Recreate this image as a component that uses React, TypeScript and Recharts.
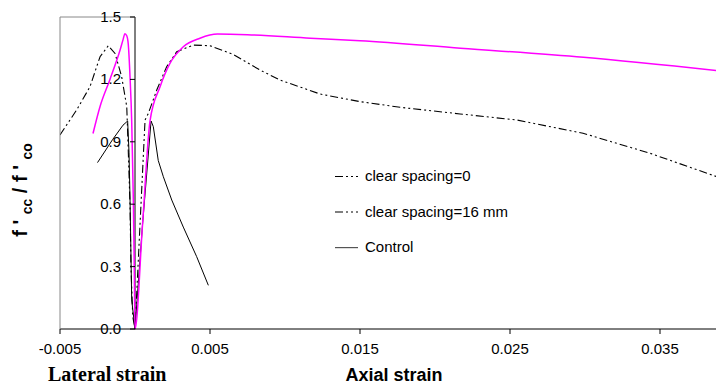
import React from "react";
import { ComposedChart, Line, XAxis, YAxis, ReferenceLine } from "recharts";

// curves run from the far lateral end, through the origin, out along the axial branch
const spacing0 = [
  { x: -0.005, y: 0.933 },
  { x: -0.00389, y: 1.053 },
  { x: -0.003, y: 1.165 },
  { x: -0.00233, y: 1.309 },
  { x: -0.00178, y: 1.362 },
  { x: -0.00133, y: 1.325 },
  { x: -0.00089, y: 1.213 },
  { x: -0.00055, y: 1.069 },
  { x: -0.00045, y: 0.86 },
  { x: -0.00033, y: 0.588 },
  { x: -0.00027, y: 0.3 },
  { x: -0.00015, y: 0.06 },
  { x: 0, y: 0 },
  { x: 0.00067, y: 1.005 },
  { x: 0.00089, y: 1.037 },
  { x: 0.00145, y: 1.149 },
  { x: 0.00211, y: 1.261 },
  { x: 0.00278, y: 1.333 },
  { x: 0.00389, y: 1.365 },
  { x: 0.005, y: 1.362 },
  { x: 0.00655, y: 1.32 },
  { x: 0.00833, y: 1.245 },
  { x: 0.00967, y: 1.197 },
  { x: 0.01233, y: 1.13 },
  { x: 0.015, y: 1.093 },
  { x: 0.01767, y: 1.066 },
  { x: 0.02167, y: 1.034 },
  { x: 0.02544, y: 1.005 },
  { x: 0.02987, y: 0.941 },
  { x: 0.03433, y: 0.845 },
  { x: 0.0388, y: 0.732 },
];

const spacing16 = [
  { x: -0.0028, y: 0.94 },
  { x: -0.00233, y: 1.07 },
  { x: -0.00167, y: 1.2 },
  { x: -0.001, y: 1.34 },
  { x: -0.0008, y: 1.39 },
  { x: -0.00067, y: 1.42 },
  { x: -0.00055, y: 1.41 },
  { x: -0.00045, y: 1.37 },
  { x: -0.00033, y: 1.21 },
  { x: -0.00022, y: 1.0 },
  { x: -0.00011, y: 0.62 },
  { x: -0.00004, y: 0.25 },
  { x: 0, y: 0 },
  { x: 0.0005, y: 0.5 },
  { x: 0.001, y: 1.0 },
  { x: 0.00167, y: 1.165 },
  { x: 0.00233, y: 1.277 },
  { x: 0.00322, y: 1.357 },
  { x: 0.00433, y: 1.398 },
  { x: 0.0055, y: 1.418 },
  { x: 0.0075, y: 1.415 },
  { x: 0.0117, y: 1.398 },
  { x: 0.015, y: 1.386 },
  { x: 0.0217, y: 1.35 },
  { x: 0.0299, y: 1.306 },
  { x: 0.0388, y: 1.242 },
];

const control = [
  { x: -0.0025, y: 0.8 },
  { x: -0.0015, y: 0.91 },
  { x: -0.0008, y: 0.98 },
  { x: -0.00049, y: 1.0 },
  { x: -0.0004, y: 0.85 },
  { x: -0.00033, y: 0.62 },
  { x: -0.00022, y: 0.14 },
  { x: 0, y: 0 },
  { x: 0.0005, y: 0.5 },
  { x: 0.00107, y: 1.0 },
  { x: 0.00122, y: 0.973 },
  { x: 0.00155, y: 0.81 },
  { x: 0.00189, y: 0.732 },
  { x: 0.00245, y: 0.62 },
  { x: 0.00322, y: 0.49 },
  { x: 0.00411, y: 0.348 },
  { x: 0.00489, y: 0.21 },
];

const xTicks = [-0.005, 0.005, 0.015, 0.025, 0.035];
const yTicks = [0, 0.3, 0.6, 0.9, 1.2, 1.5];
const legendItems = [
  { name: "clear spacing=0", dashed: true },
  { name: "clear spacing=16 mm", dashed: true },
  { name: "Control", dashed: false },
];

const X_MIN = -0.005;
const X_MAX = 0.038733;
const W = 716;
const H = 385;
const LEFT = 60;
const TOP = 17;
const BOTTOM = 56;
const PLOT_W = W - LEFT;
// the y axis sits at zero strain, not at the plot's left edge
const ZERO_X = LEFT + (PLOT_W * (0 - X_MIN)) / (X_MAX - X_MIN);

const font = "'Liberation Sans', Arial, sans-serif";
const DASH = "8 3 2 3 2 3";

function YTick(props: any) {
  const { y, payload } = props;
  return (
    <g>
      <line x1={ZERO_X - 5} x2={ZERO_X} y1={y} y2={y} stroke="#000" />
      <text x={ZERO_X - 14} y={y} dy={5} textAnchor="end" fontSize={15} fontFamily={font} fill="#000">
        {Number(payload.value).toFixed(1)}
      </text>
    </g>
  );
}

function LegendBox({ x, y }: { x: number; y: number }) {
  return (
    <g>
      {legendItems.map((it, i) => {
        const cy = y + i * 35.5;
        return (
          <g key={it.name}>
            {it.dashed ? (
              <line x1={x} x2={x + 23} y1={cy + 0.5} y2={cy + 0.5} stroke="#000" strokeDasharray={DASH} strokeWidth={1.2} />
            ) : (
              <rect x={x} y={cy} width={23} height={1.2} fill="#555" />
            )}
            <text x={x + 30} y={cy + 5} fontFamily={font} fontSize={15} fill="#000">
              {it.name}
            </text>
          </g>
        );
      })}
    </g>
  );
}

export default function App() {
  return (
    <div style={{ position: "absolute", left: 0, top: 0, width: W, height: H, background: "#fff" }}>
      <ComposedChart width={W} height={H} margin={{ top: TOP, right: 0, bottom: 0, left: LEFT - 1 }}>
        <XAxis
          type="number"
          dataKey="x"
          domain={[X_MIN, X_MAX]}
          ticks={xTicks}
          allowDataOverflow
          height={BOTTOM}
          stroke="#000"
          tickSize={5}
          tickMargin={9}
          tick={{ fontSize: 15, fontFamily: font, fill: "#000" }}
          tickFormatter={(v: number) => v.toFixed(3)}
        />
        <YAxis
          type="number"
          dataKey="y"
          domain={[0, 1.5]}
          ticks={yTicks}
          width={1}
          axisLine={{ stroke: "#888" }}
          tickLine={false}
          tick={(p: any) => <YTick {...p} />}
          interval={0}
        />
        <ReferenceLine x={0} stroke="#000" />
        <ReferenceLine segment={[{ x: X_MIN, y: 1.5 }, { x: 0, y: 1.5 }]} stroke="#888" />
        <Line data={spacing0} dataKey="y" type="linear" stroke="#000" strokeWidth={1.1} strokeDasharray={DASH} dot={false} isAnimationActive={false} />
        <Line data={control} dataKey="y" type="linear" stroke="#000" strokeWidth={1} dot={false} isAnimationActive={false} />
        <Line data={spacing16} dataKey="y" type="monotone" stroke="#ff00ff" strokeWidth={1.5} dot={false} isAnimationActive={false} />
      </ComposedChart>
      <svg width={W} height={H} style={{ position: "absolute", left: 0, top: 0, pointerEvents: "none" }}>
        <LegendBox x={335} y={176} />
        <text transform="translate(27,190) rotate(-90)" textAnchor="middle" fontFamily={font} fontWeight="bold" fontSize={20} fill="#000">
          f ' <tspan fontSize={14} dy={5}>cc</tspan>
          <tspan dy={-5}> / f ' </tspan>
          <tspan fontSize={14} dy={5}>co</tspan>
        </text>
        <text x={48} y={381} fontFamily="'Liberation Serif', 'Times New Roman', serif" fontWeight="bold" fontSize={20} fill="#000">
          Lateral strain
        </text>
        <text x={394} y={381} textAnchor="middle" fontFamily={font} fontWeight="bold" fontSize={18} fill="#000">
          Axial strain
        </text>
      </svg>
    </div>
  );
}
